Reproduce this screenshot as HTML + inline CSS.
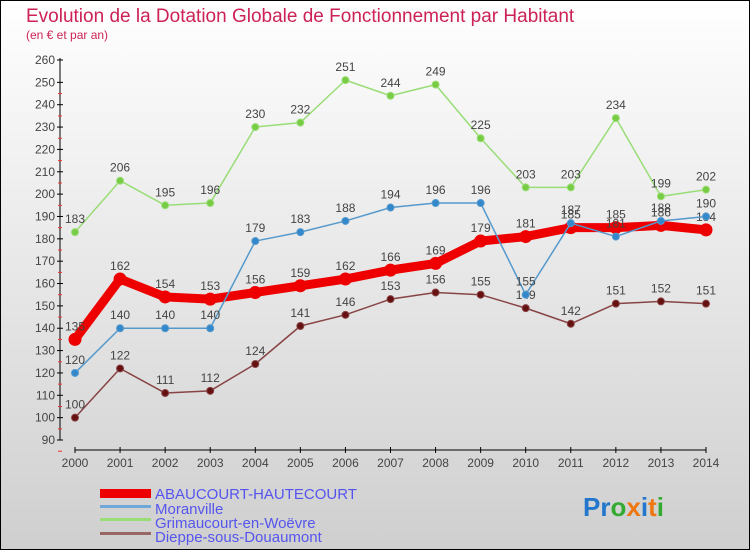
<!DOCTYPE html>
<html><head><meta charset="utf-8"><style>
body{margin:0}
#c{width:750px;height:550px;position:relative;overflow:hidden;font-family:"Liberation Sans",sans-serif}
</style></head><body>
<div id="c">
<svg id="s" width="750" height="550" xmlns="http://www.w3.org/2000/svg">
<defs><linearGradient id="bg" x1="0" y1="0" x2="0" y2="1"><stop offset="0" stop-color="#ffffff"/><stop offset="1" stop-color="#cfcfcf"/></linearGradient></defs>
<rect x="0.5" y="0.5" width="749" height="549" fill="url(#bg)" stroke="#000"/>
<text x="26" y="22" font-size="19" fill="#cc2255">Evolution de la Dotation Globale de Fonctionnement par Habitant</text>
<text x="26" y="39" font-size="12" fill="#cc2255">(en € et par an)</text>
<g id="axes"></g><g id="series"></g>
<g>
<rect x="100" y="489" width="51" height="9" fill="#ee0000"/>
<text x="155" y="499" font-size="15" fill="#5555ee">ABAUCOURT-HAUTECOURT</text>
<rect x="100" y="505" width="51" height="3" fill="#6fa8d8"/>
<text x="155" y="514" font-size="15" fill="#5555ee">Moranville</text>
<rect x="100" y="518" width="51" height="3" fill="#99dd77"/>
<text x="155" y="528" font-size="15" fill="#5555ee">Grimaucourt-en-Woëvre</text>
<rect x="100" y="532" width="51" height="3" fill="#996666"/>
<text x="155" y="542" font-size="15" fill="#5555ee">Dieppe-sous-Douaumont</text>
</g>
<g font-size="26" font-weight="bold">
<text x="583" y="516"><tspan fill="#2277cc">Pr</tspan><tspan fill="#33aa33">o</tspan><tspan fill="#ee7711">x</tspan><tspan fill="#2277cc">i</tspan><tspan fill="#ee7711">t</tspan><tspan fill="#33aa33">i</tspan></text>
</g>
</svg>
</div>
<script>
const years=[2000,2001,2002,2003,2004,2005,2006,2007,2008,2009,2010,2011,2012,2013,2014];
const yTicks=[90,100,110,120,130,140,150,160,170,180,190,200,210,220,230,240,250,260];
const abaucourt=[135,162,154,153,156,159,162,166,169,179,181,185,185,186,184];
const moranville=[120,140,140,140,179,183,188,194,196,196,155,187,181,188,190];
const grimaucourt=[183,206,195,196,230,232,251,244,249,225,203,203,234,199,202];
const dieppe=[100,122,111,112,124,141,146,153,156,155,149,142,151,152,151];
const NS="http://www.w3.org/2000/svg";
const xs=i=>75+i*(706-75)/14;
const ys=v=>440-(v-90)*(380/170);
function mk(tag,attrs,parent){const e=document.createElementNS(NS,tag);for(const k in attrs)e.setAttribute(k,attrs[k]);parent.appendChild(e);return e;}
const ax=document.getElementById('axes');
let yl=mk('line',{x1:60,y1:58,x2:60,y2:440,stroke:'#000','stroke-width':1},ax);


yTicks.forEach(t=>{const y=ys(t);
 mk('line',{x1:57,y1:y,x2:63,y2:y,stroke:'#000'},ax);
 mk('line',{x1:58,y1:y+11.2,x2:62,y2:y+11.2,stroke:t<260?'#e33':'none'},ax);
 const tx=mk('text',{x:55,y:y+4,'font-size':12,'text-anchor':'end',fill:'#444'},ax);tx.textContent=t;
 
 
});
let xl=mk('line',{x1:75,y1:450,x2:706,y2:450,stroke:'#000'},ax);


years.forEach((yr,i)=>{const x=xs(i);
 mk('line',{x1:x,y1:447,x2:x,y2:453,stroke:'#000'},ax);
 const tx=mk('text',{x:x,y:467,'font-size':12,'text-anchor':'middle',fill:'#444'},ax);tx.textContent=yr;
 
 
});
const sg=document.getElementById('series');
function draw(name,data,color,w,r,dot){
 const g=mk('g',{},sg);
 
 
 mk('polyline',{points:data.map((v,i)=>xs(i)+','+ys(v)).join(' '),fill:'none',stroke:color,'stroke-width':w,'stroke-linejoin':'round'},g);
 data.forEach((v,i)=>{
  const c=mk('circle',{cx:xs(i),cy:ys(v),r:r,fill:dot,stroke:color,'stroke-width':1},g);
  
  
  const t=mk('text',{x:xs(i),y:ys(v)-9,'font-size':12,'text-anchor':'middle',fill:'#444'},g);t.textContent=v;
  
  
 });
}
draw('grimaucourt',grimaucourt,'#99dd77',1.5,3.5,'#77cc44');
draw('dieppe',dieppe,'#884444',1.5,3.5,'#661111');
draw('abaucourt',abaucourt,'#ee0000',9,6,'#ee0000');
draw('moranville',moranville,'#5599cc',1.5,3.5,'#3388cc');
</script>
</body></html>
